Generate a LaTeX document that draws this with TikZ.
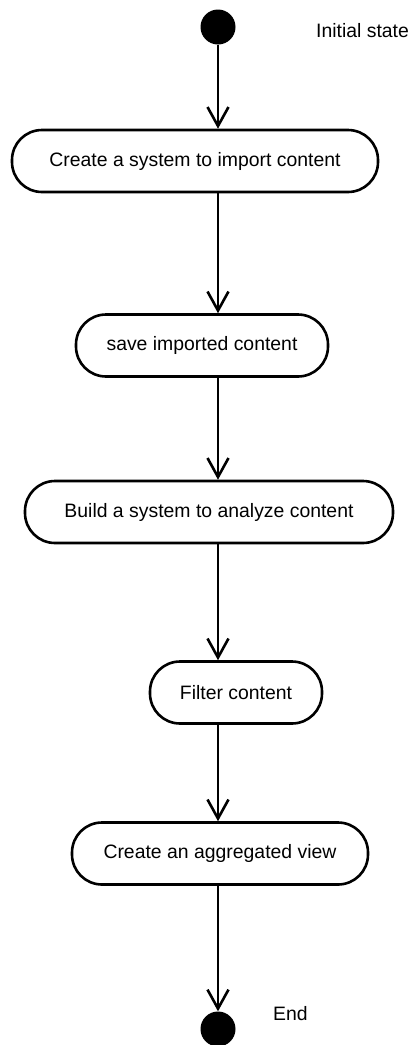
\documentclass[tikz,border=0pt]{standalone}
\usepackage{fontspec}
\setmainfont{Liberation Sans}
\usetikzlibrary{arrows.meta}
\tikzset{
    activity-box/.style = {draw=black, fill=white, line width=2.6pt, rectangle, rounded corners=30pt, minimum height=62pt, inner sep=0pt, font=\fontsize{19.4}{23}\selectfont},
    state-dot/.style = {circle, fill=black, minimum size=35pt, inner sep=0pt},
    state-label/.style = {anchor=west, inner sep=0pt, font=\fontsize{19.4}{23}\selectfont},
    flow-arrow/.style = {line width=2.6pt, -{Straight Barb[length=19pt,width=21pt,line width=2.6pt]}},
}

\begin{document}
\begin{tikzpicture}[x=1pt,y=-1pt]
\useasboundingbox (0,0) rectangle (409,1045);
\node [state-dot] (init) at (218,27) {};
\node [state-label] (init-label) at (316,31) {Initial state};
\node [activity-box, minimum width=366pt] (import) at (195,161) {Create a system to import content};
\node [activity-box, minimum width=252pt] (save) at (202,345.5) {save imported content};
\node [activity-box, minimum width=368pt] (analyze) at (209,512) {Build a system to analyze content};
\node [activity-box, minimum width=172pt] (filter) at (236,692.5) {Filter content};
\node [activity-box, minimum width=296pt] (aggregate) at (220,853.5) {Create an aggregated view};
\node [state-dot] (final) at (218,1029) {};
\node [state-label] (final-label) at (273,1014) {End};
% transitions
\draw [flow-arrow] (init) -- (init |- import.north);
\draw [flow-arrow] (import.south -| init) -- (save.north -| init);
\draw [flow-arrow] (save.south -| init) -- (analyze.north -| init);
\draw [flow-arrow] (analyze.south -| init) -- (filter.north -| init);
\draw [flow-arrow] (filter.south -| init) -- (aggregate.north -| init);
\draw [flow-arrow] (aggregate.south -| init) -- (final);
\end{tikzpicture}
\end{document}
